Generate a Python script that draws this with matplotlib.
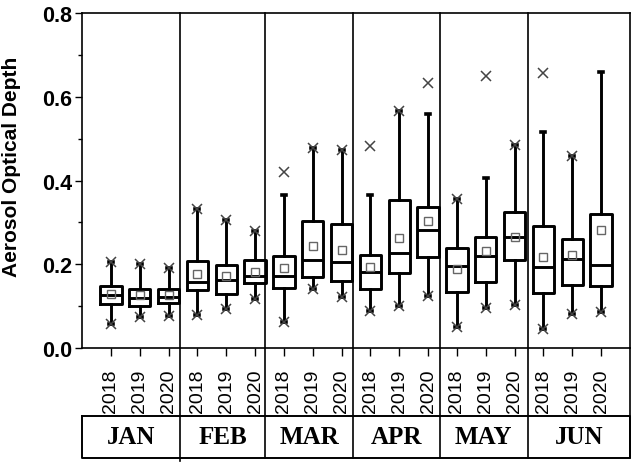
import numpy as np
import matplotlib
matplotlib.use("Agg")
import matplotlib.pyplot as plt
from matplotlib.ticker import MultipleLocator, FormatStrFormatter
import matplotlib.transforms as mtransforms

# ---- data ----
months = ["JAN", "FEB", "MAR", "APR", "MAY", "JUN"]
years = ["2018", "2019", "2020"]
whislo = [0.057, 0.073, 0.077, 0.079, 0.093, 0.117, 0.063, 0.141, 0.121,
          0.089, 0.101, 0.125, 0.049, 0.095, 0.103, 0.045, 0.081, 0.085]
q1 = [0.105, 0.0995, 0.107, 0.1385, 0.129, 0.1545, 0.144, 0.170, 0.159,
      0.141, 0.179, 0.218, 0.134, 0.158, 0.211, 0.131, 0.150, 0.147]
med = [0.127, 0.119, 0.1225, 0.158, 0.162, 0.171, 0.173, 0.211, 0.205,
       0.181, 0.227, 0.282, 0.197, 0.220, 0.264, 0.193, 0.2125, 0.199]
q3 = [0.147, 0.141, 0.141, 0.2085, 0.198, 0.210, 0.220, 0.304, 0.296,
      0.223, 0.353, 0.336, 0.238, 0.264, 0.324, 0.292, 0.260, 0.320]
whishi = [0.205, 0.201, 0.190, 0.332, 0.306, 0.279, 0.366, 0.478, 0.474,
          0.366, 0.567, 0.559, 0.356, 0.406, 0.485, 0.515, 0.459, 0.660]
means = [0.128, 0.127, 0.127, 0.177, 0.173, 0.181, 0.190, 0.244, 0.235,
         0.193, 0.263, 0.304, 0.189, 0.232, 0.264, 0.217, 0.222, 0.282]
xmax = [0.205, 0.201, 0.190, 0.332, 0.306, 0.279, 0.421, 0.478, 0.474,
        0.483, 0.567, 0.632, 0.356, 0.649, 0.485, 0.657, 0.459, np.nan]
xmin = whislo
yticks = [0.0, 0.2, 0.4, 0.6, 0.8]

# ---- figure ----
fig = plt.figure(figsize=(6.34, 4.64), dpi=100)
ax = fig.add_axes([82/634, 1-349/464, 548/634, 335/464])

n = len(med)
positions = np.arange(1, n + 1)
stats = []
for i in range(n):
    stats.append(dict(whislo=whislo[i], q1=q1[i], med=med[i], q3=q3[i],
                      whishi=whishi[i], mean=means[i], fliers=[]))

lw = 2.1
ax.bxp(stats, positions=positions, widths=0.74, capwidths=0.14,
       showmeans=True, showfliers=False, patch_artist=False,
       boxprops=dict(color="black", linewidth=lw),
       medianprops=dict(color="black", linewidth=lw),
       whiskerprops=dict(color="black", linewidth=lw),
       capprops=dict(color="black", linewidth=2.6),
       meanprops=dict(marker="s", markerfacecolor="none",
                      markeredgecolor="#666666", markersize=6,
                      markeredgewidth=1.0))

ax.plot(positions, xmax, linestyle="none", marker="x", color="#444444",
        markersize=7, markeredgewidth=1.1, zorder=4)
ax.plot(positions, xmin, linestyle="none", marker="x", color="#444444",
        markersize=7, markeredgewidth=1.1, zorder=4)

ax.set_xlim(0, 19)
ax.set_ylim(0, 0.8)
ax.set_yticks(yticks)
ax.yaxis.set_major_formatter(FormatStrFormatter("%.1f"))
ax.yaxis.set_minor_locator(MultipleLocator(0.1))
for lab in ax.get_yticklabels():
    lab.set_fontfamily("Liberation Sans")
    lab.set_fontweight("bold")
    lab.set_fontsize(15.5)
ax.tick_params(axis="y", which="major", direction="out", length=5, width=1.0, pad=2)
ax.tick_params(axis="y", which="minor", direction="out", length=3, width=1.0)

ax.set_xticks(positions)
ax.set_xticklabels(years * len(months), rotation=90,
                   fontfamily="Liberation Sans", fontsize=14)
ax.tick_params(axis="x", direction="out", length=6, width=1.0, pad=9)

for s in ax.spines.values():
    s.set_linewidth(1.2)

ax.set_ylabel("Aerosol Optical Depth", fontfamily="Liberation Sans",
              fontweight="bold", fontsize=15)
ax.yaxis.set_label_coords(-0.111, 0.543)

# month separators and bottom table
seps = [3.4, 6.35, 9.4, 12.4, 15.45]
trans = mtransforms.blended_transform_factory(ax.transData, ax.transAxes)
tab_top, tab_bot = -0.202, -0.328
for k, s in enumerate(seps):
    ybot = tab_bot - (0.01 if k == 0 else 0)
    ax.plot([s, s], [1, ybot], color="black", linewidth=1.2,
            transform=trans, clip_on=False)
ax.plot([19, 19], [0, tab_bot], color="black", linewidth=1.2,
        transform=trans, clip_on=False)
ax.plot([0, 19, 19, 0, 0], [tab_top, tab_top, tab_bot, tab_bot, tab_top],
        color="black", linewidth=1.4, transform=trans, clip_on=False)

edges = [0] + seps + [19]
for m, name in enumerate(months):
    cx = (edges[m] + edges[m + 1]) / 2
    ax.text(cx, (tab_top + tab_bot) / 2, name, transform=trans,
            ha="center", va="center", fontfamily="Liberation Serif",
            fontweight="bold", fontsize=18)

fig.savefig("out.png", dpi=100)
